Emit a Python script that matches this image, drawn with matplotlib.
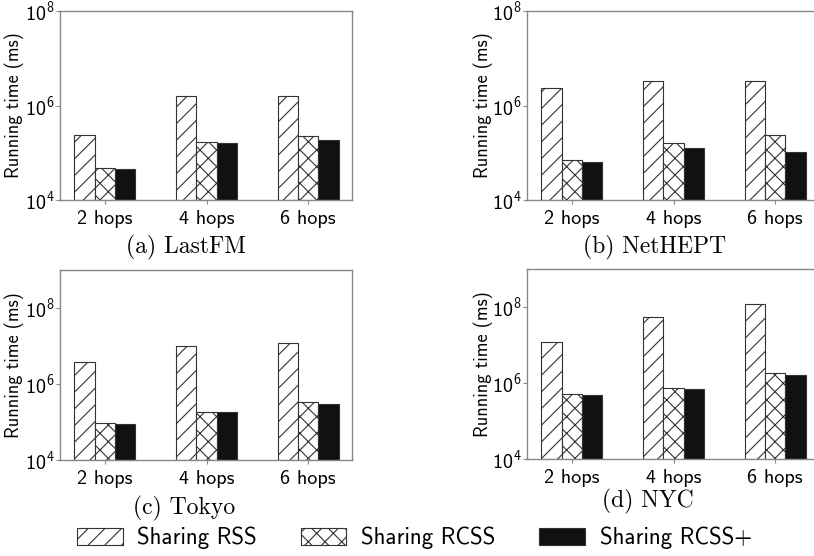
import matplotlib
matplotlib.use('Agg')
import matplotlib.pyplot as plt
import matplotlib.ticker as mticker
import numpy as np

plt.rcParams['font.family'] = ['cmss10', 'DejaVu Sans']
plt.rcParams['mathtext.fontset'] = 'custom'
plt.rcParams['mathtext.rm'] = 'cmss10'
plt.rcParams['mathtext.it'] = 'cmss10'
plt.rcParams['axes.unicode_minus'] = False
plt.rcParams['hatch.linewidth'] = 0.8
plt.rcParams['hatch.color'] = '#333333'

hops = ['2 hops', '4 hops', '6 hops']
methods = ['Sharing RSS', 'Sharing RCSS', 'Sharing RCSS+']

# running time (ms) per dataset, one list per method
lastfm_rss = [2.3e5, 1.6e6, 1.6e6]
lastfm_rcss = [3.8e4, 1.6e5, 2.15e5]
lastfm_rcssp = [3.6e4, 1.53e5, 1.75e5]

nethept_rss = [2.36e6, 3.3e6, 3.3e6]
nethept_rcss = [6.1e4, 1.53e5, 2.26e5]
nethept_rcssp = [5.5e4, 1.17e5, 9.4e4]

tokyo_rss = [3.7e6, 9.8e6, 1.18e7]
tokyo_rcss = [8.2e4, 1.76e5, 3.36e5]
tokyo_rcssp = [8.0e4, 1.74e5, 2.9e5]

nyc_rss = [1.23e7, 5.5e7, 1.18e8]
nyc_rcss = [5.0e5, 7.3e5, 1.8e6]
nyc_rcssp = [4.7e5, 6.8e5, 1.6e6]

captions = ['(a) LastFM', '(b) NetHEPT', '(c) Tokyo', '(d) NYC']

panels = [
    (lastfm_rss, lastfm_rcss, lastfm_rcssp),
    (nethept_rss, nethept_rcss, nethept_rcssp),
    (tokyo_rss, tokyo_rcss, tokyo_rcssp),
    (nyc_rss, nyc_rcss, nyc_rcssp),
]
ylims = [(1e4, 1e8), (1e4, 1e8), (1e4, 1e9), (1e4, 1e9)]

W, H = 814, 556
fig = plt.figure(figsize=(W / 100, H / 100), dpi=100)

# axes boxes in pixels: left, top, right, bottom
boxes = [(60, 11, 352, 200), (527, 11, 819, 200),
         (60, 270, 352, 460), (527, 269, 819, 459)]
cap_pos = [(186, 247), (655, 247), (184, 508), (648, 501)]
ylab_x = [24, 493, 24, 493]

hatches = ['//', 'xx', '']
faces = ['white', 'white', '#111111']
width = 0.2
x = np.arange(len(hops))

handles = None
for i, (ax_box, data) in enumerate(zip(boxes, panels)):
    l, t, r, b = ax_box
    ax = fig.add_axes([l / W, 1 - b / H, (r - l) / W, (b - t) / H])
    bars = []
    for j, vals in enumerate(data):
        bc = ax.bar(x + (j - 1) * width, vals, width, bottom=ylims[i][0],
                    color=faces[j], edgecolor='#333333', linewidth=0.8,
                    hatch=hatches[j], label=methods[j])
        bars.append(bc)
    handles = bars
    ax.set_yscale('log')
    ax.set_ylim(*ylims[i])
    ax.set_xlim(-0.44, 2.43)
    ax.yaxis.set_major_locator(mticker.FixedLocator([1e4, 1e6, 1e8]))
    ax.yaxis.set_minor_locator(mticker.NullLocator())
    ax.set_xticks(x)
    ax.set_xticklabels(hops, fontsize=14.5)
    ax.tick_params(axis='y', labelsize=14.5, length=3, width=0.8,
                   color='#888888', pad=1)
    ax.tick_params(axis='x', length=3, width=0.8, color='#888888', pad=4)
    for s in ax.spines.values():
        s.set_color('#888888')
        s.set_linewidth(1.0)
    ax.set_ylabel('Running time (ms)', fontsize=13.2)
    ax.yaxis.set_label_coords((ylab_x[i] - l) / (r - l), 0.5)
    cx, cy = cap_pos[i]
    fig.text(cx / W, 1 - cy / H, captions[i], ha='center', va='center',
             fontsize=17, family='cmr10')

fig.legend(handles, methods, loc='center', bbox_to_anchor=(0.509, 1 - 538 / H),
           ncol=3, frameon=False, fontsize=16.5, handlelength=2.0,
           handleheight=0.75, columnspacing=1.9, handletextpad=0.65,
           borderaxespad=0)

fig.savefig('out.png', dpi=100)
